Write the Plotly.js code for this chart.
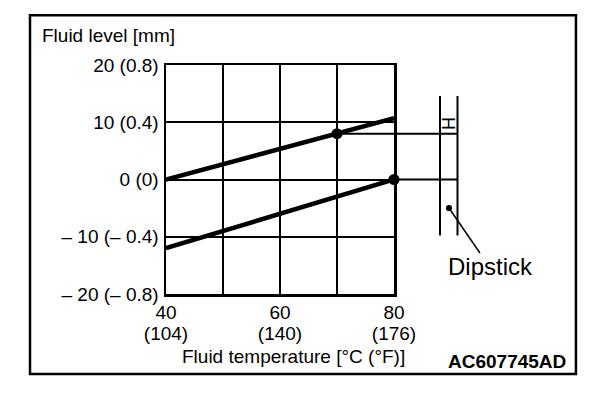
<!DOCTYPE html>
<html>
<head>
<meta charset="utf-8">
<script src="https://cdn.plot.ly/plotly-3.0.1.min.js"></script>
<style>html,body{margin:0;padding:0;background:#fff;}#chart{width:608px;height:394px;}</style>
</head>
<body>
<div id="chart"></div>
<script>
// Data
const tempC = [40, 80];                 // fluid temperature (°C)
const upperLevel = [0, 10.7];           // upper line (mm)
const lowerLevel = [-12, 0];            // lower line (mm)
const markTemp = [70, 80];              // marked points (°C)
const markLevel = [8, 0];               // marked points (mm)
const xTickVals = [40, 50, 60, 70, 80];
const xTickTextC = ['40', '', '60', '', '80'];
const xTickTextF = ['(104)', '', '(140)', '', '(176)'];
const yTickVals = [-20, -10, 0, 10, 20];
const yTickText = ['\u2013 20 (\u2013 0.8)', '\u2013 10 (\u2013 0.4)', '0 (0)', '10 (0.4)', '20 (0.8)'];
const xRange = [40, 80];
const yRange = [-20, 20];

const FONT = '"Liberation Sans", Arial, Helvetica, sans-serif';

const traces = [
  {x: tempC, y: upperLevel, mode: 'lines', line: {color: '#000', width: 4.5}, hoverinfo: 'skip', cliponaxis: false},
  {x: tempC, y: lowerLevel, mode: 'lines', line: {color: '#000', width: 4.5}, hoverinfo: 'skip', cliponaxis: false},
  {x: markTemp, y: markLevel, mode: 'markers', marker: {color: '#000', size: 11}, hoverinfo: 'skip', cliponaxis: false},
  {x: tempC, y: upperLevel, xaxis: 'x2', yaxis: 'y', mode: 'lines', line: {color: 'rgba(0,0,0,0)', width: 0}, hoverinfo: 'skip'}
];

const toPaperX = t => (t - xRange[0]) / (xRange[1] - xRange[0]);
const dipL = 1.2018, dipR = 1.2785, dipTop = 0.8646, dipBot = 0.2555;

const shapes = [
  // outer frame
  {type: 'rect', xref: 'paper', yref: 'paper', x0: -0.5965, x1: 1.798, y0: -0.349, y1: 1.217,
   line: {color: '#000', width: 2.5}},
  // dipstick walls
  {type: 'line', xref: 'paper', yref: 'paper', x0: dipL, x1: dipL, y0: dipBot, y1: dipTop, line: {color: '#000', width: 2}},
  {type: 'line', xref: 'paper', yref: 'paper', x0: dipR, x1: dipR, y0: dipBot, y1: dipTop, line: {color: '#000', width: 2}},
  // dipstick pointer
  {type: 'line', xref: 'paper', yref: 'paper', x0: 1.241, y0: 0.3755, x1: 1.377, y1: 0.179, line: {color: '#000', width: 1.5}},
  {type: 'circle', xref: 'paper', yref: 'paper', x0: 1.241 - 0.0135, x1: 1.241 + 0.0135, y0: 0.3755 - 0.0135, y1: 0.3755 + 0.0135,
   fillcolor: '#000', line: {color: '#000', width: 0}}
];
// horizontal reference lines from marked points to the dipstick
for (let i = 0; i < markTemp.length; i++) {
  shapes.push({type: 'line', xref: 'paper', yref: 'y', x0: toPaperX(markTemp[i]), x1: dipR,
    y0: markLevel[i], y1: markLevel[i], line: {color: '#000', width: 2}});
}

const annotations = [
  {text: 'Fluid level [mm]', xref: 'paper', yref: 'paper', x: -0.5535, y: 1.129, xanchor: 'left', yanchor: 'middle',
   showarrow: false, font: {family: FONT, size: 19, color: '#000'}},
  {text: 'Fluid temperature [\u00B0C (\u00B0F)]', xref: 'paper', yref: 'paper', x: 0.0614, y: -0.274, xanchor: 'left', yanchor: 'middle',
   showarrow: false, font: {family: FONT, size: 19, color: '#000'}},
  {text: '<b>AC607745AD</b>', xref: 'paper', yref: 'paper', x: 1.763, y: -0.2956, xanchor: 'right', yanchor: 'middle',
   showarrow: false, font: {family: FONT, size: 19, color: '#000'}},
  {text: 'Dipstick', xref: 'paper', yref: 'paper', x: 1.425, y: 0.122, xanchor: 'center', yanchor: 'middle',
   showarrow: false, font: {family: FONT, size: 24, color: '#000'}},
  {text: 'H', xref: 'paper', yref: 'paper', x: 1.2395, y: 0.7445, xanchor: 'center', yanchor: 'middle', textangle: -90,
   showarrow: false, font: {family: FONT, size: 18, color: '#000'}}
];

const layout = {
  width: 608, height: 394,
  margin: {l: 166, r: 214, t: 65, b: 100, pad: 0},
  paper_bgcolor: '#fff', plot_bgcolor: '#fff',
  showlegend: false,
  font: {family: FONT, size: 19, color: '#000'},
  xaxis: {
    range: xRange, tickvals: xTickVals, ticktext: xTickTextC, ticks: '',
    showgrid: true, gridcolor: '#000', gridwidth: 2, zeroline: false,
    showline: true, linecolor: '#000', linewidth: 2.5, mirror: true,
    tickfont: {family: FONT, size: 19, color: '#000'}, fixedrange: true
  },
  xaxis2: {
    range: xRange, tickvals: xTickVals, ticktext: xTickTextF, ticks: '',
    overlaying: 'x', side: 'bottom', anchor: 'y',
    showgrid: false, zeroline: false, showline: false,
    tickfont: {family: FONT, size: 19, color: '#000'}, fixedrange: true, ticklabelstandoff: 26
  },
  yaxis: {
    range: yRange, tickvals: yTickVals, ticktext: yTickText, ticks: '',
    showgrid: true, gridcolor: '#000', gridwidth: 2, zeroline: false,
    showline: true, linecolor: '#000', linewidth: 2.5, mirror: true,
    tickfont: {family: FONT, size: 19, color: '#000'}, fixedrange: true, ticklabelstandoff: 1
  },
  shapes: shapes,
  annotations: annotations
};

Plotly.newPlot('chart', traces, layout, {staticPlot: true, displayModeBar: false});
</script>
</body>
</html>
